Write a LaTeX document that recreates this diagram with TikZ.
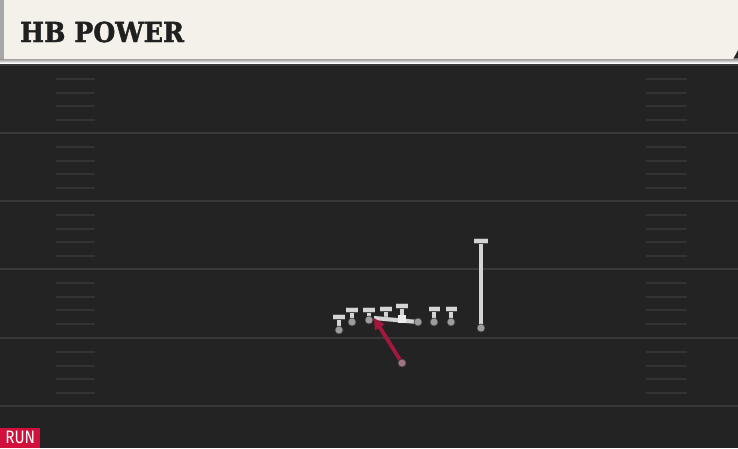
\documentclass[tikz,border=0pt]{standalone}
\usepackage{fontspec}
\newfontfamily\titlefont{DejaVu Serif}[BoldFont={DejaVu Serif Bold}, BoldFeatures={FakeBold=1.6}]
\newfontfamily\tagfont{Fira Sans}
\usetikzlibrary{arrows.meta}
\definecolor{field}{HTML}{232323}
\definecolor{yard}{HTML}{383838}
\definecolor{hashc}{HTML}{333333}
\definecolor{cream}{HTML}{F4F1EA}
\definecolor{strip}{HTML}{A6A6A6}
\definecolor{shade}{HTML}{161616}
\definecolor{ink}{HTML}{202020}
\definecolor{runred}{HTML}{D2103C}
\definecolor{hbred}{HTML}{A5173C}
\definecolor{routegray}{HTML}{D4D4D4}
\definecolor{dotgray}{HTML}{9C9C9C}

\begin{document}
\begin{tikzpicture}[x=1pt,y=-1pt,
  yardline/.style={draw=yard, line width=2pt},
  hashmark/.style={draw=hashc, line width=1.3pt},
  player/.style={circle, fill=dotgray, draw=black!75, line width=0.6pt, inner sep=0pt, minimum size=8pt},
  snapper/.style={rectangle, fill=white!92!black, inner sep=0pt, minimum size=8.5pt},
  stem/.style={draw=routegray, line width=3.6pt, preaction={draw=black!70, line width=4.8pt}},
  bar/.style={draw=routegray, line width=4pt, preaction={draw=black!70, line width=5.2pt}},
  run/.style={draw=hbred, line width=3.8pt, -{Triangle[length=11pt,width=11pt]}}]
  \useasboundingbox (0,0) rectangle (738,448);
  \fill[field] (0,0) rectangle (738,448);

  \foreach \y in {65,133,201,269,338,406}
    \draw[yardline] (0,\y) -- (738,\y);
  \foreach \y in {65,133,201,269,338}
    \foreach \d in {14,28,41,55} {
      \draw[hashmark] (56,\y+\d) -- (95,\y+\d);
      \draw[hashmark] (646,\y+\d) -- (687,\y+\d);
    }

  \fill[shade] (0,58) rectangle (738,63);
  \fill[cream] (4,0) -- (738,0) -- (738,50) -- (733,59) -- (4,59) -- cycle;
  \fill[strip] (0,0) rectangle (4,59);
  \node[anchor=base west, inner sep=0pt, text=ink,
    font=\titlefont\bfseries\fontsize{27.5}{30}\selectfont] (title) at (20,42) {\scalebox{0.92}[1]{HB POWER}};

  \coordinate (t1) at (339,317);
  \coordinate (t2) at (352,310);
  \coordinate (t3) at (369,310);
  \coordinate (t4) at (386,309);
  \coordinate (t5) at (402,306);
  \coordinate (t6) at (434,309);
  \coordinate (t7) at (451,309);
  \coordinate (t8) at (481,241);
  \coordinate (pull) at (374,318);

  \draw[stem] (339,330) -- (t1);
  \draw[stem] (352,322) -- (t2);
  \draw[stem] (369,320) -- (t3);
  \draw[stem] (386,319) -- (t4);
  \draw[stem] (402,319) -- (t5);
  \draw[stem] (434,322) -- (t6);
  \draw[stem] (451,322) -- (t7);
  \draw[stem, line width=4pt] (481,328) -- (t8);
  \draw[stem, line width=4pt] (pull) -- (418,322);

  \foreach \t/\w in {t1/6,t2/6,t3/6,t4/6,t5/6,t6/5.5,t7/5.5,t8/7}
    \draw[bar] ([xshift=-\w pt]\t) -- ([xshift=\w pt]\t);

  \node[player] (lt) at (339,330) {};
  \node[player] (lg) at (352,322) {};
  \node[player] (c) at (369,320) {};
  \node[snapper] (ctr) at (402,319) {};
  \node[player] (rg) at (434,322) {};
  \node[player] (rt) at (451,322) {};
  \node[player] (wr) at (481,328) {};
  \node[player] (pend) at (418,322) {};
  \node[player, fill=dotgray!70!hbred] (hb) at (402,363) {};

  \draw[run] (hb) -- (pull);

  \node[anchor=south west, fill=runred, text=white, inner sep=0pt,
    minimum width=40pt, minimum height=20pt,
    font=\tagfont\fontsize{18}{18}\selectfont] (tag) at (0,448) {\scalebox{0.85}[1]{RUN}};
\end{tikzpicture}
\end{document}
